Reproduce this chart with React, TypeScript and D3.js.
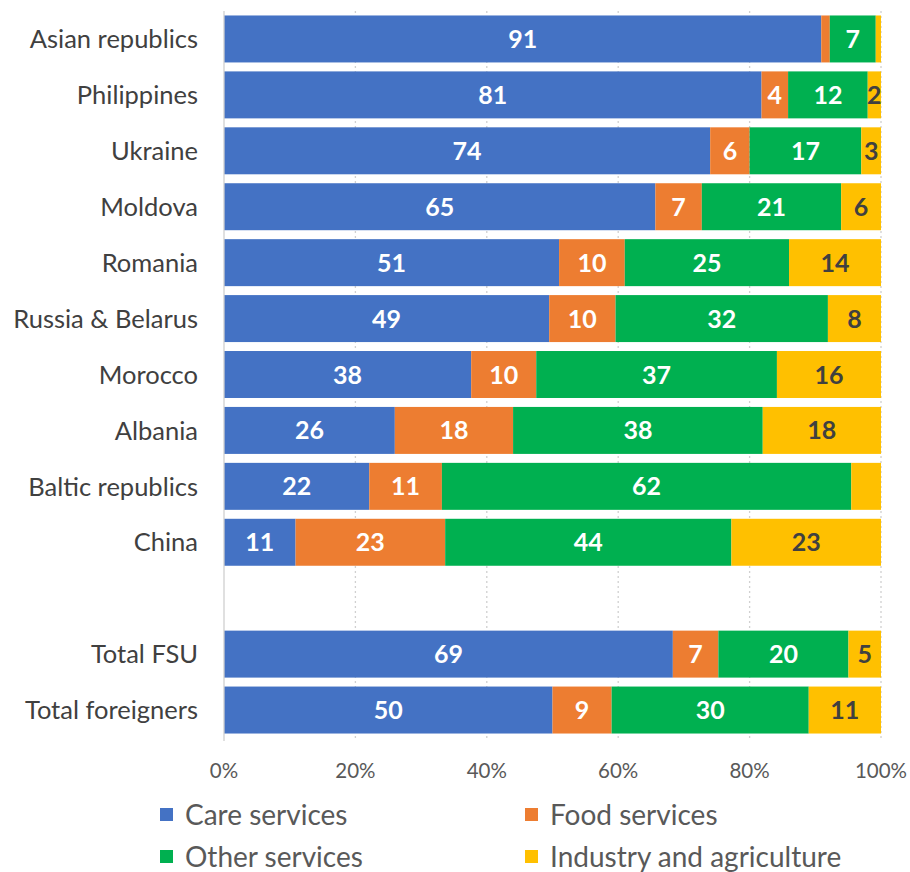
import React from "react";
import * as d3 from "d3";

const categories = [
  "Asian republics",
  "Philippines",
  "Ukraine",
  "Moldova",
  "Romania",
  "Russia & Belarus",
  "Morocco",
  "Albania",
  "Baltic republics",
  "China",
  "",
  "Total FSU",
  "Total foreigners",
];

const care = [91, 81, 74, 65, 51, 49, 38, 26, 22, 11, 0, 69, 50];
const food = [1.3, 4, 6, 7, 10, 10, 10, 18, 11, 23, 0, 7, 9];
const other = [7, 12, 17, 21, 25, 32, 37, 38, 62, 44, 0, 20, 30];
const industry = [0.8, 2, 3, 6, 14, 8, 16, 18, 4.5, 23, 0, 5, 11];

const seriesNames = ["Care services", "Food services", "Other services", "Industry and agriculture"];
const seriesColors = ["#4472C4", "#ED7D31", "#00B050", "#FFC000"];
const labelColors = ["#ffffff", "#ffffff", "#ffffff", "#404040"];
const hiddenLabels: [string, number][] = [
  ["Asian republics", 1],
  ["Asian republics", 3],
  ["Baltic republics", 3],
];
const tickValues = [0, 0.2, 0.4, 0.6, 0.8, 1];

const FONT = "Lato, 'Open Sans', sans-serif";

export default function App() {
  const W = 910;
  const H = 872;
  const left = 224;
  const right = 881;
  const top = 11;
  const bottom = 738;

  const rows = categories.map((c, i) => ({
    key: c === "" ? "__gap" : c,
    label: c,
    s0: care[i],
    s1: food[i],
    s2: other[i],
    s3: industry[i],
  }));

  const x = d3.scaleLinear().domain([0, 1]).range([left, right]);
  const y = d3
    .scaleBand<string>()
    .domain(rows.map((r) => r.key))
    .range([top, bottom])
    .paddingInner(0.16)
    .paddingOuter(0.08);

  const stack = d3
    .stack<any>()
    .keys(["s0", "s1", "s2", "s3"])
    .offset(d3.stackOffsetExpand);
  const stacked = stack(rows.filter((r) => r.label !== ""));

  const isHidden = (cat: string, si: number) =>
    hiddenLabels.some(([c, s]) => c === cat && s === si);

  return (
    <svg width={W} height={H} style={{ display: "block", position: "absolute", left: 0, top: 0 }}>
      <rect width={W} height={H} fill="#ffffff" />
      {tickValues.slice(1).map((t) => (
        <line
          key={t}
          x1={x(t)}
          x2={x(t)}
          y1={top}
          y2={bottom + 3}
          stroke="#d0d0d0"
          strokeWidth={1.3}
          strokeDasharray="2,3"
        />
      ))}
      {stacked.map((layer, si) => (
        <g key={si}>
          {layer.map((d: any) => {
            const cat = d.data.label;
            const x0 = x(d[0]);
            const x1 = x(d[1]);
            const yy = y(d.data.key)!;
            const bh = y.bandwidth();
            const v = d.data["s" + si];
            return (
              <g key={cat}>
                <rect x={x0} y={yy} width={Math.max(0, x1 - x0)} height={bh} fill={seriesColors[si]} />
                {!isHidden(cat, si) && v > 0 && (
                  <text
                    x={(x0 + x1) / 2}
                    y={yy + bh / 2}
                    dy="0.36em"
                    textAnchor="middle"
                    fontFamily={FONT}
                    fontWeight={700}
                    fontSize={25}
                    fill={labelColors[si]}
                  >
                    {Math.round(v)}
                  </text>
                )}
              </g>
            );
          })}
        </g>
      ))}
      <line x1={left} x2={left} y1={top} y2={bottom + 3} stroke="#d0d0d0" strokeWidth={1.3} />
      {rows
        .filter((r) => r.label !== "")
        .map((r) => (
          <text
            key={r.key}
            x={198}
            y={y(r.key)! + y.bandwidth() / 2}
            dy="0.36em"
            textAnchor="end"
            fontFamily={FONT}
            fontSize={25.5}
            fill="#404040"
          >
            {r.label}
          </text>
        ))}
      {tickValues.map((t) => (
        <text
          key={t}
          x={x(t)}
          y={771}
          dy="0.36em"
          textAnchor="middle"
          fontFamily={FONT}
          fontSize={20.5}
          fill="#595959"
        >
          {d3.format(".0%")(t)}
        </text>
      ))}
      {seriesNames.map((name, i) => {
        const col = i % 2;
        const row = Math.floor(i / 2);
        const lx = col === 0 ? 160 : 525;
        const ly = 815 + row * 42;
        return (
          <g key={name}>
            <rect x={lx} y={ly - 7} width={13} height={13} fill={seriesColors[i]} />
            <text x={lx + 25} y={ly} dy="0.36em" fontFamily={FONT} fontSize={28} fill="#595959">
              {name}
            </text>
          </g>
        );
      })}
    </svg>
  );
}
